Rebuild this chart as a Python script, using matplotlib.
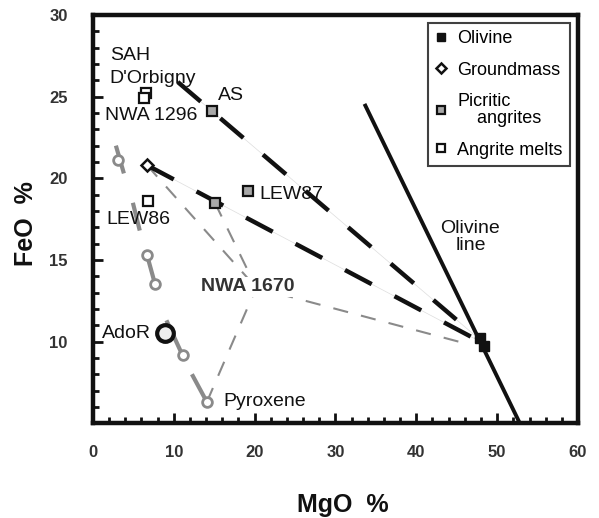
import numpy as np
import matplotlib.pyplot as plt
from matplotlib.lines import Line2D
from matplotlib.ticker import MultipleLocator

plt.rcParams['font.family'] = ['Liberation Sans', 'DejaVu Sans']

# --- data (MgO %, FeO %) ---
olivine_mgo = [47.9, 48.4]
olivine_feo = [10.2, 9.7]

ground_mgo = [6.7]
ground_feo = [20.8]

picritic_mgo = [14.7, 15.1, 19.2]
picritic_feo = [24.1, 18.5, 19.2]

melts_mgo = [6.6, 6.3, 6.8]
melts_feo = [25.2, 24.9, 18.6]

ador_mgo = [8.9]
ador_feo = [10.5]

# pyroxene trend (gray segments + small circles)
pyx_seg_mgo = [[2.85, 3.84], [4.95, 5.8], [6.7, 7.7], [9.1, 11.1], [12.25, 14.1]]
pyx_seg_feo = [[22.0, 20.3], [18.5, 16.8], [15.3, 13.5], [11.3, 9.15], [8.0, 6.3]]
pyx_circ_mgo = [3.1, 6.7, 7.7, 11.1, 14.1]
pyx_circ_feo = [21.1, 15.3, 13.5, 9.15, 6.3]

# olivine control lines
ctrl_mgo = [[10.5, 47.9], [6.7, 47.9]]
ctrl_feo = [[25.9, 10.1], [20.8, 10.0]]

# NWA 1670 mixing lines
nwa1670 = (20.2, 13.3)
mix_from_mgo = [6.7, 15.1, 14.1, 45.2]
mix_from_feo = [20.8, 18.5, 6.3, 10.0]

# olivine line
oline_mgo = [33.7, 52.8]
oline_feo = [24.45, 5.0]

labels = ['SAH', "D'Orbigny", 'NWA 1296', 'AS', 'LEW87', 'LEW86', 'AdoR', 'Pyroxene']
label_mgo = [2.1, 2.1, 1.5, 15.5, 20.6, 1.7, 1.1, 16.1]
label_feo = [27.5, 26.1, 23.85, 25.05, 19.0, 17.5, 10.5, 6.3]

fig = plt.figure(figsize=(5.99, 5.18), dpi=100)
ax = fig.add_axes([0.155, 0.183, 0.81, 0.788])

gray = '#8a8a8a'

# gray dashed mixing lines
for mx, fy in zip(mix_from_mgo, mix_from_feo):
    ax.plot([mx, nwa1670[0]], [fy, nwa1670[1]], color=gray, lw=1.5,
            dashes=(7.3, 6.4), zorder=1)

# control lines: thin gray + thick dashes
for xs, ys in zip(ctrl_mgo, ctrl_feo):
    ax.plot(xs, ys, color='#dddddd', lw=0.5, zorder=2)
    ax.plot(xs, ys, color='#111111', lw=3.2, dashes=(6.8, 5.8),
            solid_capstyle='butt', zorder=3)

# olivine line
ax.plot(oline_mgo, oline_feo, color='#111111', lw=2.8, zorder=4)

# pyroxene segments
for xs, ys in zip(pyx_seg_mgo, pyx_seg_feo):
    ax.plot(xs, ys, color=gray, lw=3, solid_capstyle='butt', zorder=3)
ax.plot(pyx_circ_mgo, pyx_circ_feo, ls='none', marker='o', ms=7,
        mfc='white', mec=gray, mew=2, zorder=5)

# markers
ax.plot(olivine_mgo, olivine_feo, ls='none', marker='s', ms=7,
        mfc='#111111', mec='#111111', zorder=6)
ax.plot(ground_mgo, ground_feo, ls='none', marker='D', ms=6.5,
        mfc='white', mec='#111111', mew=1.8, zorder=6)
ax.plot(picritic_mgo, picritic_feo, ls='none', marker='s', ms=7,
        mfc='#a8a8a8', mec='#111111', mew=1.6, zorder=6)
ax.plot(melts_mgo, melts_feo, ls='none', marker='s', ms=7,
        mfc='white', mec='#111111', mew=1.6, zorder=6)
ax.plot(ador_mgo, ador_feo, ls='none', marker='o', ms=12,
        mfc='#eeeeee', mec='#111111', mew=3, zorder=6)

# text labels
for t, x, y in zip(labels, label_mgo, label_feo):
    ax.text(x, y, t, fontsize=14, color='#111111', ha='left', va='center', zorder=7)
ax.text(nwa1670[0] - 1.1, nwa1670[1] + 0.05, 'NWA 1670', fontsize=14, fontweight='bold',
        color='#333333', ha='center', va='center', zorder=7,
        bbox=dict(facecolor='white', edgecolor='none', pad=1))
ax.text(46.7, 16.4, 'Olivine\nline', fontsize=14, color='#111111', ha='center',
        va='center', linespacing=1.05, zorder=7)

# legend
handles = [
    Line2D([], [], ls='none', marker='s', ms=6, mfc='#111111', mec='#111111'),
    Line2D([], [], ls='none', marker='D', ms=5.5, mfc='white', mec='#111111', mew=1.8),
    Line2D([], [], ls='none', marker='s', ms=6, mfc='#a8a8a8', mec='#111111', mew=1.6),
    Line2D([], [], ls='none', marker='s', ms=6, mfc='white', mec='#111111', mew=1.6),
]
leg = ax.legend(handles, ['Olivine', 'Groundmass', 'Picritic\n    angrites', 'Angrite melts'],
                loc='upper right', fontsize=13, frameon=True, fancybox=False,
                handlelength=0.6, handletextpad=0.6, labelspacing=0.8,
                borderpad=0.4, borderaxespad=0.45)
leg.get_frame().set_edgecolor('#111111')
leg.get_frame().set_linewidth(1.5)
leg.set_zorder(10)
for t in leg.get_texts():
    t.set_linespacing(1.0)

ax.set_xlim(0, 60)
ax.set_ylim(5, 30)
ax.xaxis.set_major_locator(MultipleLocator(10))
ax.xaxis.set_minor_locator(MultipleLocator(2))
ax.yaxis.set_major_locator(MultipleLocator(5))
ax.yaxis.set_minor_locator(MultipleLocator(1))
ax.set_yticks([10, 15, 20, 25, 30])

for s in ax.spines.values():
    s.set_linewidth(3.2)
    s.set_color('#111111')

ax.tick_params(which='both', direction='in', top=False, right=False, color='#111111')
ax.tick_params(which='major', length=7, width=2)
ax.tick_params(which='minor', length=4, width=2)
ax.tick_params(axis='y', which='major', pad=18)
ax.tick_params(axis='x', which='major', pad=16)
for lab in ax.get_xticklabels() + ax.get_yticklabels():
    lab.set_fontweight('bold')
    lab.set_fontsize(12)
    lab.set_color('#333333')

ax.set_xlabel('MgO  %', fontsize=18, fontweight='bold', color='#111111')
ax.set_ylabel('FeO  %', fontsize=18, fontweight='bold', color='#111111')
ax.xaxis.label.set_va('center')
ax.yaxis.label.set_va('center')
ax.xaxis.set_label_coords(0.515, -0.2)
ax.yaxis.set_label_coords(-0.137, 0.49)

fig.savefig('out.png', dpi=100)
